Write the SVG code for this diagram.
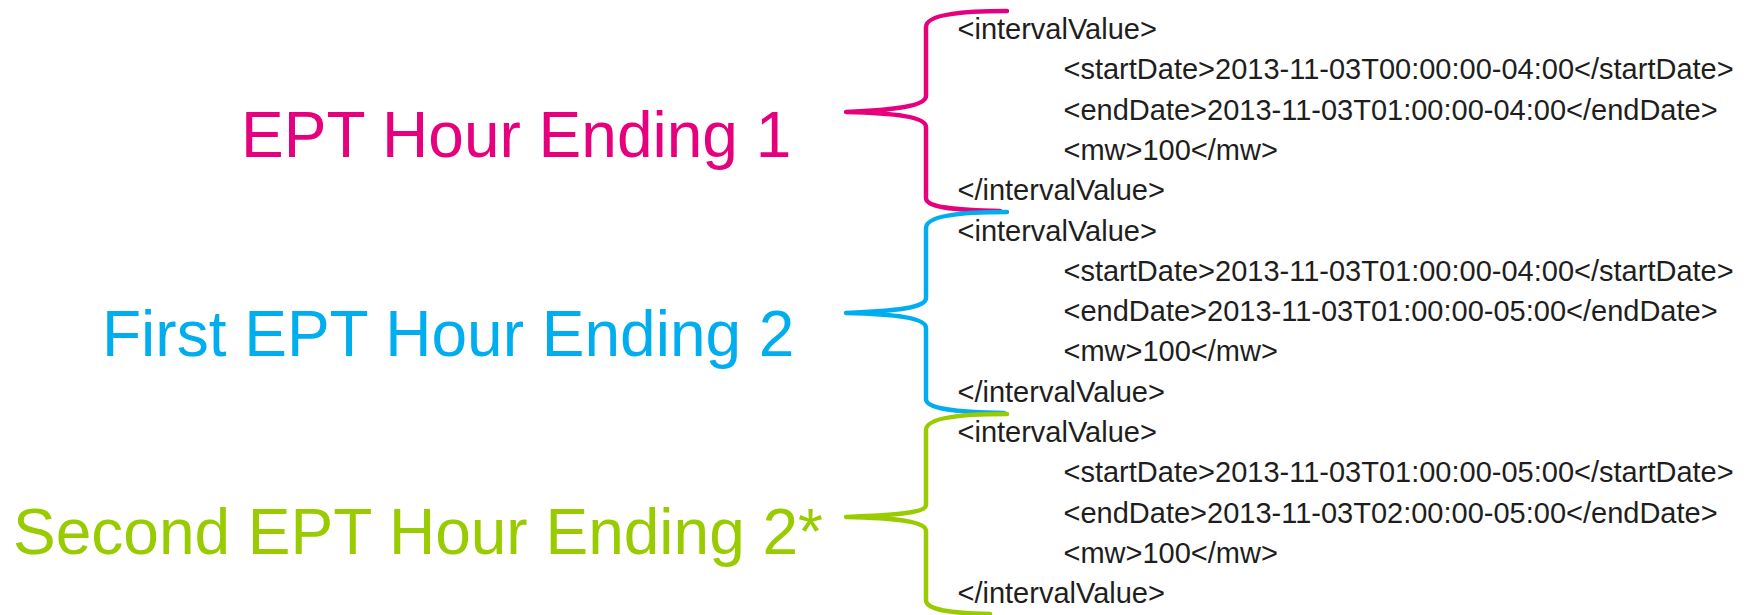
<svg xmlns="http://www.w3.org/2000/svg" width="1747" height="615" viewBox="0 0 1747 615">
  <style>
    .lbl { font-family: "Liberation Sans", Arial, sans-serif; font-size: 64px; }
    .xml { font-family: "Liberation Sans", Arial, sans-serif; font-size: 29px; fill: #1e1e1e; }
    .brace { fill: none; stroke-width: 4.5; stroke-linecap: round; stroke-linejoin: round; }
    .pink { fill: #E6007E; stroke: #E6007E; }
    .blue { fill: #00AEEF; stroke: #00AEEF; }
    .green { fill: #99CC00; stroke: #99CC00; }
  </style>
  <rect width="1747" height="615" fill="#ffffff"/>

  <g id="label-he1">
    <text class="lbl" x="241" y="157" fill="#E6007E">EPT Hour Ending 1</text>
  </g>
  <g id="label-he2-first">
    <text class="lbl" x="102" y="356" fill="#00AEEF">First EPT Hour Ending 2</text>
  </g>
  <g id="label-he2-second">
    <text class="lbl" x="13" y="554" fill="#99CC00">Second EPT Hour Ending 2*</text>
  </g>

  <g id="xml-block-1" class="xml">
    <text x="957.5" y="39">&lt;intervalValue&gt;</text>
    <text x="1063.5" y="79.3">&lt;startDate&gt;2013-11-03T00:00:00-04:00&lt;/startDate&gt;</text>
    <text x="1063.5" y="119.6">&lt;endDate&gt;2013-11-03T01:00:00-04:00&lt;/endDate&gt;</text>
    <text x="1063.5" y="159.9">&lt;mw&gt;100&lt;/mw&gt;</text>
    <text x="957.5" y="200.2">&lt;/intervalValue&gt;</text>
  </g>
  <g id="xml-block-2" class="xml">
    <text x="957.5" y="240.5">&lt;intervalValue&gt;</text>
    <text x="1063.5" y="280.8">&lt;startDate&gt;2013-11-03T01:00:00-04:00&lt;/startDate&gt;</text>
    <text x="1063.5" y="321.1">&lt;endDate&gt;2013-11-03T01:00:00-05:00&lt;/endDate&gt;</text>
    <text x="1063.5" y="361.4">&lt;mw&gt;100&lt;/mw&gt;</text>
    <text x="957.5" y="401.7">&lt;/intervalValue&gt;</text>
  </g>
  <g id="xml-block-3" class="xml">
    <text x="957.5" y="442">&lt;intervalValue&gt;</text>
    <text x="1063.5" y="482.3">&lt;startDate&gt;2013-11-03T01:00:00-05:00&lt;/startDate&gt;</text>
    <text x="1063.5" y="522.6">&lt;endDate&gt;2013-11-03T02:00:00-05:00&lt;/endDate&gt;</text>
    <text x="1063.5" y="562.9">&lt;mw&gt;100&lt;/mw&gt;</text>
    <text x="957.5" y="603.2">&lt;/intervalValue&gt;</text>
  </g>

  <g id="connectors">
    <path class="brace pink" style="fill:none" d="M1007,11 C965,11 926,14 926,27 L926,96 C926,106 895,110 846,112 C895,113 926,117 926,127 L926,198 C926,207 950,210 1000,211"/>
    <path class="brace blue" style="fill:none" d="M1007,212 C965,212 926,215 926,228 L926,298 C926,308 895,311 846,313 C895,314 926,318 926,328 L926,399 C926,408 950,412 1004,413"/>
    <path class="brace green" style="fill:none" d="M1007,414 C965,414 926,417 926,430 L926,505 C926,513 895,515 846,517 C895,518 926,521 926,531 L926,600 C926,609 945,613 990,614"/>
  </g>
</svg>
